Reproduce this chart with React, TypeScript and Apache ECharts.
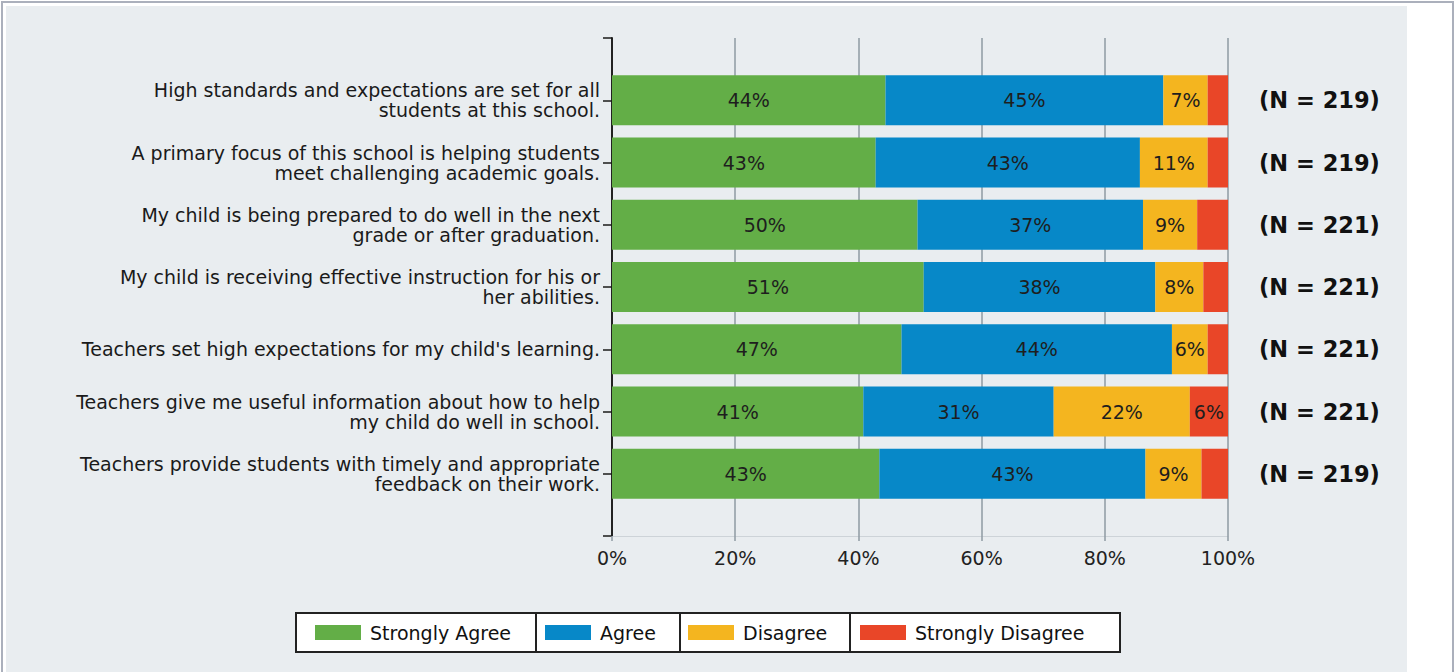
import React, { useEffect, useRef } from "react";
import * as echarts from "echarts";

const categories = [
  "High standards and expectations are set for all\nstudents at this school.",
  "A primary focus of this school is helping students\nmeet challenging academic goals.",
  "My child is being prepared to do well in the next\ngrade or after graduation.",
  "My child is receiving effective instruction for his or\nher abilities.",
  "Teachers set high expectations for my child's learning.",
  "Teachers give me useful information about how to help\nmy child do well in school.",
  "Teachers provide students with timely and appropriate\nfeedback on their work.",
];
const nCounts = [219, 219, 221, 221, 221, 221, 219];
const seriesNames = ["Strongly Agree", "Agree", "Disagree", "Strongly Disagree"];
const stronglyAgree = [44.4, 42.8, 49.6, 50.6, 47.0, 40.8, 43.4];
const agree = [45.1, 42.9, 36.6, 37.6, 43.9, 30.9, 43.2];
const disagree = [7.2, 11.0, 8.8, 7.8, 5.8, 22.1, 9.1];
const stronglyDisagree = [3.3, 3.3, 5.0, 4.0, 3.3, 6.2, 4.3];
const xTicks = [0, 20, 40, 60, 80, 100];

const colors = ["#63AE47", "#0788C8", "#F4B51F", "#E94628"];
const FONT = "DejaVu Sans";

export default function App() {
  const ref = useRef<HTMLDivElement>(null);
  useEffect(() => {
    if (!ref.current) return;
    const chart = echarts.init(ref.current, null, { renderer: "svg" });
    const pad = (arr: any[]) => ["-", ...arr, "-"];
    const values = [stronglyAgree, agree, disagree, stronglyDisagree];
    const legendLefts = [315, 545, 688, 860];
    chart.setOption({
      animation: false,
      backgroundColor: "#FFFFFF",
      graphic: [
        {
          type: "rect",
          z: -100,
          shape: { x: 2, y: 2, width: 1451, height: 700 },
          style: { fill: "#FFFFFF", stroke: "#ABB0BC", lineWidth: 2 },
        },
        {
          type: "rect",
          z: -99,
          shape: { x: 6, y: 6, width: 1401, height: 700 },
          style: { fill: "#E9EDF0" },
        },
        {
          type: "rect",
          z: 1,
          shape: { x: 296, y: 613, width: 824, height: 39 },
          style: { fill: "#FFFFFF", stroke: "#222222", lineWidth: 2 },
        },
        {
          type: "line",
          z: 1,
          shape: { x1: 536, y1: 613, x2: 536, y2: 652 },
          style: { stroke: "#222222", lineWidth: 2 },
        },
        {
          type: "line",
          z: 1,
          shape: { x1: 680, y1: 613, x2: 680, y2: 652 },
          style: { stroke: "#222222", lineWidth: 2 },
        },
        {
          type: "line",
          z: 1,
          shape: { x1: 850, y1: 613, x2: 850, y2: 652 },
          style: { stroke: "#222222", lineWidth: 2 },
        },
      ],
      legend: seriesNames.map((name, i) => ({
        data: [name],
        left: legendLefts[i],
        top: 623,
        padding: 0,
        itemWidth: 46,
        itemHeight: 15,
        icon: "rect",
        selectedMode: false,
        textStyle: {
          fontFamily: FONT,
          fontSize: 19,
          color: "#111111",
          padding: [0, 0, 0, 4],
        },
      })),
      grid: { left: 612, right: 228, top: 38, bottom: 136, containLabel: false },
      xAxis: {
        type: "value",
        min: 0,
        max: 100,
        interval: 20,
        axisLine: { show: true, lineStyle: { color: "#CDD3D8", width: 1 } },
        axisTick: { show: true, length: 5, lineStyle: { color: "#8E9AA3", width: 1.5 } },
        splitLine: { show: true, lineStyle: { color: "#8E9AA3", width: 1.5 } },
        axisLabel: {
          formatter: (v: number) => (xTicks.includes(v) ? v + "%" : ""),
          fontFamily: FONT,
          fontSize: 19,
          color: "#222222",
          margin: 12,
        },
      },
      yAxis: [
        {
          type: "category",
          inverse: true,
          boundaryGap: false,
          data: pad(categories).map((c) => (c === "-" ? "" : c)),
          axisLine: { show: true, onZero: false, lineStyle: { color: "#222222", width: 2 } },
          axisTick: {
            show: true,
            inside: false,
            interval: 0,
            length: 9,
            lineStyle: { color: "#1A1A1A", width: 1.5 },
          },
          splitLine: { show: false },
          axisLabel: {
            interval: 0,
            fontFamily: FONT,
            fontSize: 19,
            lineHeight: 20,
            color: "#1A1A1A",
            margin: 12,
            align: "right",
          },
        },
        {
          type: "category",
          position: "right",
          inverse: true,
          boundaryGap: false,
          data: pad(nCounts.map((n) => "(N = " + n + ")")).map((c) => (c === "-" ? "" : c)),
          axisLine: { show: false },
          axisTick: { show: false },
          splitLine: { show: false },
          axisLabel: {
            interval: 0,
            fontFamily: FONT,
            fontSize: 22.5,
            fontWeight: "bold",
            color: "#111111",
            margin: 31,
            align: "left",
          },
        },
      ],
      series: seriesNames.map((name, i) => ({
        name,
        type: "bar",
        stack: "total",
        yAxisIndex: 0,
        barWidth: 50,
        itemStyle: { color: colors[i] },
        label: {
          show: true,
          position: "inside",
          fontFamily: FONT,
          fontSize: 19,
          color: "#1E1E1E",
          formatter: (p: any) => {
            const v = Number(p.value);
            return v >= 5.5 ? Math.round(v) + "%" : "";
          },
        },
        data: pad(values[i]),
      })),
    });
    return () => chart.dispose();
  }, []);
  return (
    <div
      ref={ref}
      style={{ position: "fixed", left: 0, top: 0, width: 1456, height: 672 }}
    />
  );
}
